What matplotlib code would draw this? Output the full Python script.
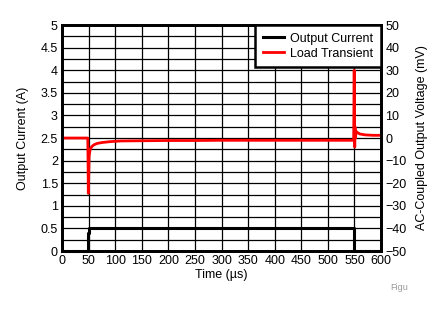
import matplotlib
matplotlib.use("Agg")
import matplotlib.pyplot as plt
from matplotlib.ticker import MultipleLocator, FormatStrFormatter

plt.rcParams['font.family'] = ['Liberation Sans', 'DejaVu Sans']

# Output current step (A) vs time (us)
current_t = [0, 49, 49, 50, 50, 550, 550, 600]
current_a = [0.0, 0.0, 0.4, 0.4, 0.5, 0.5, 0.0, 0.0]

# AC-coupled output voltage (mV) vs time (us)
volt_t = [0, 20, 48.5, 49, 49.5, 50, 51, 53, 56, 60, 66, 75, 90, 110, 150,
          200, 250, 300, 350, 400, 450, 500, 548.5, 549, 549.5, 550, 550.5,
          551, 552, 553, 555, 560, 570, 585, 600]
volt_mv = [0, 0, 0, -10, -24.5, -20, -8, -5, -3.8, -3, -2.4, -2, -1.6, -1.3, -1.2,
           -1.1, -1.1, -1.0, -1.0, -1.0, -1.0, -1.0, -1.0, 15, 30, 10, -4,
           5, 0, 3, 2.5, 1.8, 1.4, 1.2, 1.2]

fig = plt.figure(figsize=(4.35, 3.13), dpi=100)
ax = fig.add_axes([0.1425, 0.198, 0.7335, 0.722])
ax2 = ax.twinx()

l1, = ax.plot(current_t, current_a, color='black', linewidth=2.2,
              label='Output Current', clip_on=False, zorder=5)
l2, = ax2.plot(volt_t, volt_mv, color='red', linewidth=2, label='Load Transient')

ax.set_xlim(0, 600)
ax.set_ylim(0, 5)
ax2.set_ylim(-50, 50)

ax.xaxis.set_major_locator(MultipleLocator(50))
ax.yaxis.set_major_locator(MultipleLocator(0.5))
ax.yaxis.set_minor_locator(MultipleLocator(0.25))
ax.yaxis.set_major_formatter(FormatStrFormatter('%g'))
ax2.yaxis.set_major_locator(MultipleLocator(10))

ax.grid(True, which='major', axis='x', color='black', linewidth=0.9)
ax.grid(True, which='both', axis='y', color='black', linewidth=0.9)
ax.set_axisbelow(True)

for a in (ax, ax2):
    a.tick_params(which='both', length=0, labelsize=9, pad=3)
    for s in a.spines.values():
        s.set_linewidth(2)

ax.set_xlabel('Time (µs)', fontsize=9, labelpad=1)
ax.set_ylabel('Output Current (A)', fontsize=9, labelpad=8)
ax2.set_ylabel('AC-Coupled Output Voltage (mV)', fontsize=9, labelpad=7)

leg = ax2.legend(handles=[l1, l2], loc='upper right', fontsize=9,
                 fancybox=False, framealpha=1, edgecolor='black',
                 borderaxespad=0, handlelength=1.7, borderpad=0.6,
                 labelspacing=0.25, handletextpad=0.5)
leg.get_frame().set_linewidth(1.8)
leg.set_zorder(10)

fig.text(0.897, 0.075, 'Figu', color='#999999', fontsize=6.5)

fig.savefig('out.png', dpi=100)
